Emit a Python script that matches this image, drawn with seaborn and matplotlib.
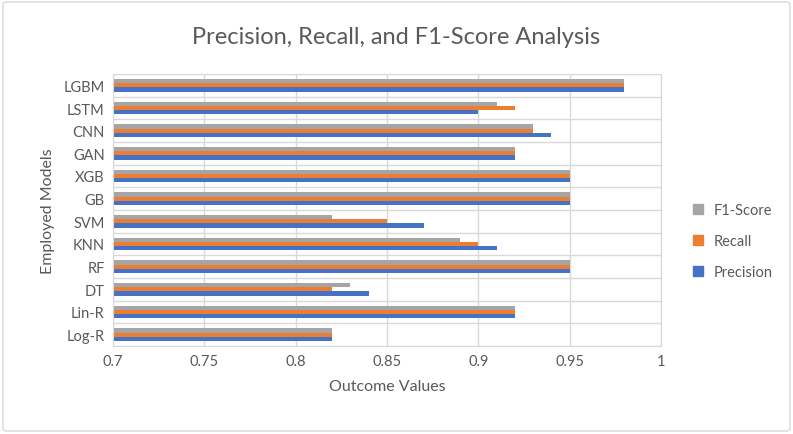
import numpy as np
import pandas as pd
import matplotlib.pyplot as plt
import seaborn as sns
from matplotlib.patches import FancyBboxPatch
from matplotlib.lines import Line2D

models = ["Log-R", "Lin-R", "DT", "RF", "KNN", "SVM", "GB", "XGB", "GAN", "CNN", "LSTM", "LGBM"]
precision = [0.82, 0.92, 0.84, 0.95, 0.91, 0.87, 0.95, 0.95, 0.92, 0.94, 0.90, 0.98]
recall = [0.82, 0.92, 0.82, 0.95, 0.90, 0.85, 0.95, 0.95, 0.92, 0.93, 0.92, 0.98]
f1_score = [0.82, 0.92, 0.83, 0.95, 0.89, 0.82, 0.95, 0.95, 0.92, 0.93, 0.91, 0.98]
x_ticks = [0.7, 0.75, 0.8, 0.85, 0.9, 0.95, 1.0]
x_tick_labels = ["0.7", "0.75", "0.8", "0.85", "0.9", "0.95", "1"]

df = pd.DataFrame({"Model": models, "Precision": precision, "Recall": recall, "F1-Score": f1_score})
df = df.melt(id_vars="Model", var_name="Metric", value_name="Value")

palette = {"Precision": "#4472C4", "Recall": "#ED7D31", "F1-Score": "#A5A5A5"}
hue_order = ["F1-Score", "Recall", "Precision"]
text_col = "#595959"

sns.set_style("white")
plt.rcParams["font.family"] = ["Lato", "DejaVu Sans"]

fig = plt.figure(figsize=(7.93, 4.35), dpi=100)
ax = fig.add_axes([113 / 793, 1 - 347 / 435, (661 - 113) / 793, (347 - 75) / 435])

sns.barplot(data=df, y="Model", x="Value", hue="Metric", order=models[::-1],
            hue_order=hue_order, palette=palette, width=0.56, saturation=1,
            linewidth=0, orient="h", ax=ax, legend=False)

ax.set_xlim(0.7, 1.0)
ax.set_xticks(x_ticks)
ax.set_xticklabels(x_tick_labels)
ax.set_ylim(len(models) - 0.5, -0.5)
ax.set_yticks(np.arange(len(models) + 1) - 0.5, minor=True)
ax.grid(True, axis="x", color="#D9D9D9", lw=1)
ax.grid(True, axis="y", which="minor", color="#D9D9D9", lw=1)
ax.set_axisbelow(True)
for s in ax.spines.values():
    s.set_color("#D9D9D9")
ax.tick_params(axis="both", which="both", length=0, labelsize=10.5, labelcolor=text_col, pad=6)
ax.set_xlabel("Outcome Values", fontsize=11.5, color=text_col, labelpad=8)
ax.set_ylabel("Employed Models", fontsize=11.5, color=text_col, labelpad=6)

fig.text(0.5, 1 - 38 / 435, "Precision, Recall, and F1-Score Analysis", ha="center", va="center",
         fontsize=17, color=text_col)

handles = [Line2D([], [], marker="s", ls="", color=palette[m], markersize=7) for m in hue_order]
fig.legend(handles, hue_order, loc="center left", bbox_to_anchor=(670 / 793, 1 - 242 / 435),
           frameon=False, fontsize=10.5, labelcolor=text_col, handletextpad=0.1, labelspacing=1.15)

fig.patches.append(FancyBboxPatch((3 / 793, 3 / 435), 787 / 793, 429 / 435,
                                  boxstyle="round,pad=0,rounding_size=0.005",
                                  transform=fig.transFigure, fill=False, ec="#D9D9D9", lw=1))

fig.savefig("out.png", dpi=100)
